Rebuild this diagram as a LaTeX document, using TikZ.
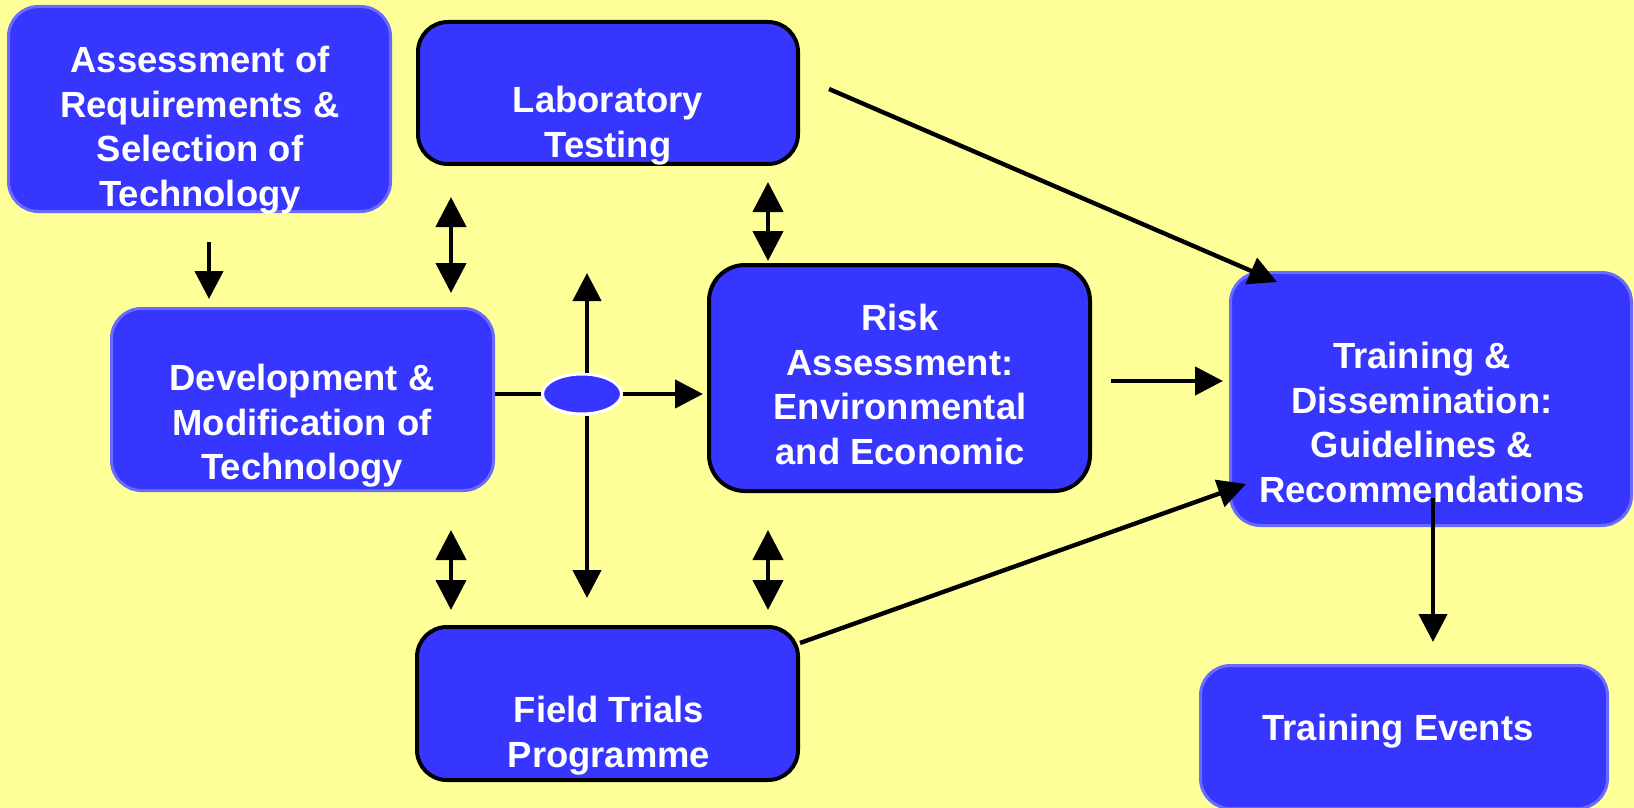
\documentclass[tikz,border=0pt]{standalone}
\usepackage{fontspec}
\setmainfont{Liberation Sans}
\usetikzlibrary{arrows.meta,shapes.geometric}
\definecolor{bgyellow}{RGB}{255,255,153}
\definecolor{boxblue}{RGB}{54,54,255}
\definecolor{edgeblue}{RGB}{106,106,255}
\newcommand\mystrut{\rule{0pt}{13.5pt}}
\begin{document}
\begin{tikzpicture}[x=0.5pt,y=-0.5pt,
  box/.style={rectangle, rounded corners=15pt, fill=boxblue, inner sep=0pt},
  softbox/.style={box, draw=edgeblue, line width=1.5pt},
  hardbox/.style={box, draw=black, line width=2pt},
  boxtext/.style={anchor=north, inner sep=0pt, align=center, text=white, font=\fontsize{18.2}{22.3}\selectfont\bfseries},
  arr/.style={line width=2.2pt, -{Triangle[length=14pt,width=14pt]}},
  darr/.style={line width=2.2pt, {Triangle[length=15pt,width=15pt]}-{Triangle[length=15pt,width=15pt]}},
  plain/.style={line width=2.2pt},
]
\fill[bgyellow] (0,0) rectangle (1634,808);
\useasboundingbox (0,0) rectangle (1634,808);

% boxes
\node[softbox, minimum width=191pt, minimum height=102.5pt] (assess) at (199.5,109) {};
\node[hardbox, minimum width=190pt, minimum height=71pt] (lab) at (608,93) {};
\node[softbox, minimum width=191pt, minimum height=91pt] (dev) at (302.5,399.5) {};
\node[hardbox, minimum width=190.5pt, minimum height=113pt, rounded corners=18pt] (risk) at (899.5,378) {};
\node[hardbox, minimum width=190.5pt, minimum height=76.5pt] (field) at (607.5,703.5) {};
\node[softbox, minimum width=200.5pt, minimum height=126.5pt] (train) at (1431,399) {};
\node[softbox, minimum width=203.5pt, minimum height=71.5pt] (events) at (1404,737) {};

% texts
\node[boxtext] (assess-t) at (200,45) {\mystrut Assessment of\\Requirements \&\\Selection of\\Technology};
\node[boxtext] (lab-t) at (608,85) {\mystrut Laboratory\\Testing};
\node[boxtext] (dev-t) at (302,363) {\mystrut Development \&\\Modification of\\Technology};
\node[boxtext] (risk-t) at (900,303) {\mystrut Risk\\Assessment:\\Environmental\\and Economic};
\node[boxtext] (field-t) at (609,695) {\mystrut Field Trials\\Programme};
\node[boxtext] (train-t) at (1422,341) {\mystrut Training \&\\Dissemination:\\Guidelines \&\\Recommendations};
\node[boxtext] (events-t) at (1398,713) {\mystrut Training Events};

% hub
\node[ellipse, fill=boxblue, draw=white, line width=1.5pt, minimum width=39.5pt, minimum height=20pt, inner sep=0pt] (hub) at (582,394) {};
\coordinate (uptip) at (587,273);

% connectors
\draw[arr, shorten <=14.5pt, shorten >=4pt] ([xshift=4.75pt]assess.south) -- ([xshift=4.75pt]assess.south |- dev.north);
\draw[darr, shorten <=15.5pt, shorten >=7pt] ([xshift=17.5pt]lab.south west) -- ([xshift=17.5pt]lab.south west |- dev.north);
\draw[darr, shorten <=8pt, shorten >=1pt] ([xshift=-16pt]lab.south east) -- ([xshift=-16pt]lab.south east |- risk.north);
\draw[darr, shorten <=19pt, shorten >=7.5pt] ([xshift=18pt]field.north west |- dev.south) -- ([xshift=18pt]field.north west);
\draw[darr, shorten <=18.5pt, shorten >=7.5pt] ([xshift=-16pt]field.north east |- risk.south) -- ([xshift=-16pt]field.north east);

\draw[plain] (dev.east |- hub.west) -- (hub.west);
\draw[arr, shorten >=2pt] (hub.east) -- (hub.east -| risk.west);
\draw[arr] ([xshift=2.5pt]hub.north) -- (uptip);
\draw[arr, shorten >=13.5pt] ([xshift=2.5pt]hub.south) -- ([xshift=2.5pt]hub.south |- field.north);

\draw[arr] ([xshift=14.5pt,yshift=2pt]lab.east) -- ([xshift=24pt,yshift=-5.5pt]train.north west);
\draw[arr, shorten >=3pt] ([xshift=9.5pt,yshift=-1.5pt]risk.east) -- ([yshift=-1.5pt]risk.east -| train.west);
\draw[arr] ([yshift=-9pt]field.north east) -- ([xshift=8.5pt,yshift=21.5pt]train.south west);
\draw[arr, shorten >=11pt] ([xshift=1pt,yshift=14.5pt]train.south) -- ([xshift=1pt]train.south |- events.north);
\end{tikzpicture}
\end{document}
